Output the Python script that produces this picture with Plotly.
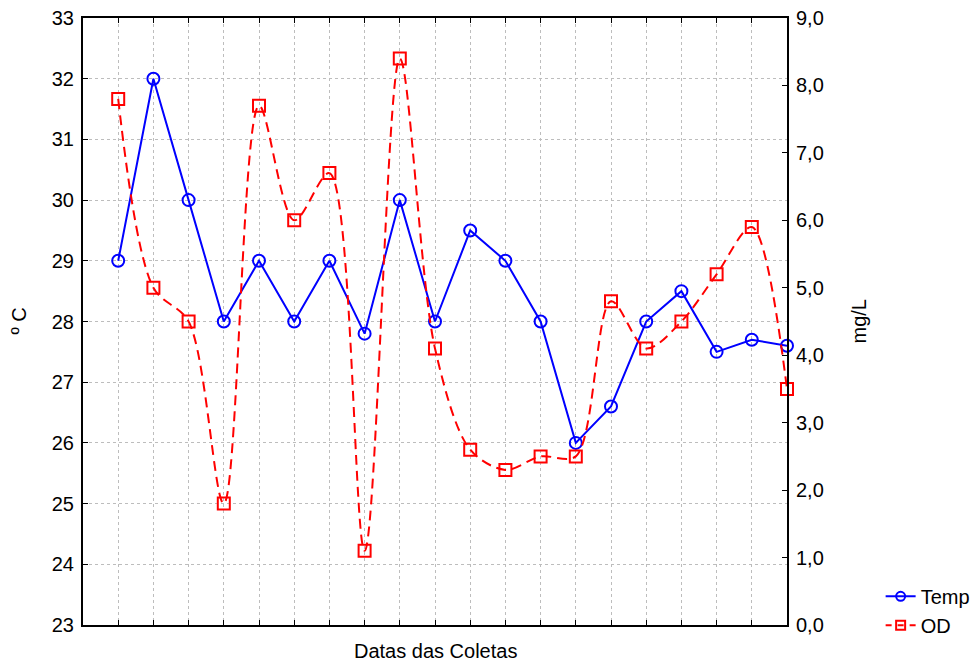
import plotly.graph_objects as go

coletas = list(range(1, 21))
temp = [29, 32, 30, 28, 29, 28, 29, 27.8, 30, 28, 29.5, 29, 28, 26, 26.6, 28, 28.5, 27.5, 27.7, 27.6]
od = [7.8, 5.0, 4.5, 1.8, 7.7, 6.0, 6.7, 1.1, 8.4, 4.1, 2.6, 2.3, 2.5, 2.5, 4.8, 4.1, 4.5, 5.2, 5.9, 3.5]
left_ticks = list(range(23, 34))
right_ticks = [0, 1, 2, 3, 4, 5, 6, 7, 8, 9]

FONT = "Liberation Sans, Arial, sans-serif"
FS = 20
BLUE = "#0000ff"
RED = "#ff0000"
OD_DASH = "10px,6px"

fig = go.Figure()
fig.add_trace(go.Scatter(
    x=coletas, y=od, name="OD", mode="lines+markers", showlegend=False,
    line=dict(color=RED, width=2, dash=OD_DASH, shape="spline", smoothing=0.9),
    marker=dict(symbol="square-open", size=12, color=RED, line=dict(width=2)),
    yaxis="y2", cliponaxis=False,
))
fig.add_trace(go.Scatter(
    x=coletas, y=temp, name="Temp", mode="lines+markers", showlegend=False,
    line=dict(color=BLUE, width=2),
    marker=dict(symbol="circle-open", size=12, color=BLUE, line=dict(width=2)),
    yaxis="y", cliponaxis=False,
))
# legend entries (smaller symbols as in the reference)
fig.add_trace(go.Scatter(
    x=[None], y=[None], name="Temp", mode="lines+markers",
    line=dict(color=BLUE, width=2),
    marker=dict(symbol="circle-open", size=9, color=BLUE, line=dict(width=2)),
))
fig.add_trace(go.Scatter(
    x=[None], y=[None], name="OD", mode="lines+markers",
    line=dict(color=RED, width=2, dash="6px,6px"),
    marker=dict(symbol="square-open", size=9, color=RED, line=dict(width=2)),
))

fig.update_layout(
    width=972, height=653,
    margin=dict(l=75, r=193, t=10, b=36, autoexpand=False),
    paper_bgcolor="white", plot_bgcolor="white",
    separators=",.",
    font=dict(family=FONT, size=FS, color="black"),
    showlegend=True,
    legend=dict(x=1.133, y=-0.0326, xanchor="left", yanchor="bottom",
                font=dict(size=FS), bgcolor="rgba(0,0,0,0)",
                tracegroupgap=0, itemwidth=30, traceorder="normal"),
    xaxis=dict(range=[0, 20], tickvals=coletas, ticktext=[""] * 20,
               ticks="inside", ticklen=5, tickcolor="black", tickwidth=1,
               showline=True, linecolor="black", linewidth=2, mirror="ticks",
               showgrid=True, gridcolor="#bdbdbd", griddash="dot", gridwidth=1,
               zeroline=False, automargin=False),
    yaxis=dict(range=[23, 33], tickvals=left_ticks, ticks="inside", ticklen=5,
               tickcolor="black", showline=True, linecolor="black", linewidth=2,
               showgrid=True, gridcolor="#bdbdbd", griddash="dot", gridwidth=1,
               zeroline=False, tickfont=dict(size=FS), automargin=False,
               ticklabelstandoff=3, ticklabeloverflow="allow"),
    yaxis2=dict(range=[0, 9], tickvals=right_ticks, tickformat=".1f",
                overlaying="y", side="right", ticks="inside", ticklen=5,
                tickcolor="black", showline=True, linecolor="black", linewidth=2,
                showgrid=False, zeroline=False, tickfont=dict(size=FS),
                automargin=False, ticklabelstandoff=3, ticklabeloverflow="allow"),
    annotations=[
        dict(text="º C", x=-0.0923, xref="paper", y=0.5, yref="paper", showarrow=False,
             textangle=-90, font=dict(size=FS), xanchor="center", yanchor="middle"),
        dict(text="mg/L", x=1.0, xref="paper", xshift=71, y=0.5, yref="paper", showarrow=False,
             textangle=-90, font=dict(size=FS), xanchor="center", yanchor="middle"),
        dict(text="Datas das Coletas", x=0.5, xref="paper", y=0, yref="paper",
             yshift=-26, showarrow=False, font=dict(size=FS),
             xanchor="center", yanchor="middle"),
    ],
)

fig.write_html("out.html")
